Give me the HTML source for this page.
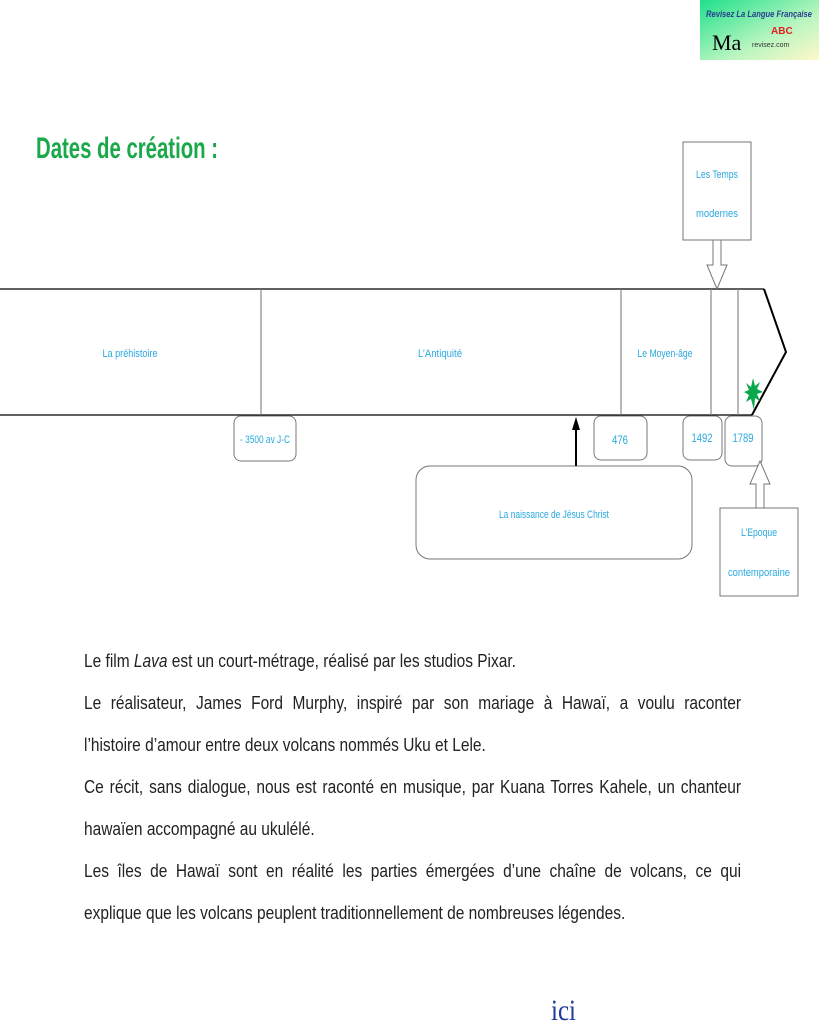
<!DOCTYPE html>
<html><head><meta charset="utf-8"><style>
html,body{margin:0;padding:0;background:#fff;}
body{position:relative;width:819px;height:1024px;overflow:hidden;}
svg{display:block;position:absolute;left:0;top:0;}
text{font-family:"Liberation Sans",sans-serif;}
#body{position:absolute;left:84px;top:640px;width:764px;transform:scaleX(0.86);transform-origin:0 0;font-family:"Liberation Sans",sans-serif;font-size:18px;color:#222;line-height:42px;}
#body div{white-space:nowrap;}
#body .j{text-align:justify;text-align-last:justify;white-space:normal;}
</style></head><body>
<svg width="819" height="1024" viewBox="0 0 819 1024" xmlns="http://www.w3.org/2000/svg">
<defs>
<linearGradient id="lg" x1="0" y1="0" x2="1" y2="1">
<stop offset="0" stop-color="#1fe08a"/><stop offset="0.6" stop-color="#b8f5c0"/><stop offset="1" stop-color="#fff8c8"/>
</linearGradient>
</defs>
<rect x="700" y="0" width="119" height="60" fill="url(#lg)"/>
<text x="706" y="17" font-size="9" fill="#2a3c90" font-style="italic" font-weight="bold" textLength="106" lengthAdjust="spacingAndGlyphs">Revisez La Langue Française</text>
<text x="712" y="50" font-size="22" fill="#000" style="font-family:'Liberation Serif',serif">Ma</text>
<text x="771" y="34" font-size="10" font-weight="bold" fill="#e02020">ABC</text>
<text x="752" y="47" font-size="7" fill="#333">revisez.com</text>

<text x="36" y="158" font-size="30" font-weight="bold" fill="#1aa84a" textLength="182" lengthAdjust="spacingAndGlyphs">Dates de création :</text>

<g stroke="#000" stroke-width="1.3" fill="none">
<line x1="0" y1="289" x2="764" y2="289"/>
<line x1="0" y1="415" x2="752" y2="415"/>
<polyline points="764,289 786,352 752,415" stroke-width="2"/>
</g>
<g stroke="#888" stroke-width="1.2">
<line x1="261" y1="289" x2="261" y2="415"/>
<line x1="621" y1="289" x2="621" y2="415"/>
<line x1="711" y1="289" x2="711" y2="415"/>
<line x1="738" y1="289" x2="738" y2="415"/>
</g>
<g fill="#29a9e0" font-size="11">
<text x="130" y="357" text-anchor="middle" textLength="55" lengthAdjust="spacingAndGlyphs">La préhistoire</text>
<text x="440" y="357" text-anchor="middle" textLength="44" lengthAdjust="spacingAndGlyphs">L’Antiquité</text>
<text x="665" y="357" text-anchor="middle" textLength="55" lengthAdjust="spacingAndGlyphs">Le Moyen-âge</text>
</g>
<polygon fill="#0aa84a" points="753,378 755,386 760,382 757,389 763,392 757,394 760,401 755,398 754,410 751,399 746,402 749,395 744,392 749,390 746,383 751,387" />

<g fill="#fff" stroke="#777" stroke-width="1">
<rect x="234" y="416" width="62" height="45" rx="7"/>
<rect x="594" y="416" width="53" height="44" rx="7"/>
<rect x="683" y="416" width="39" height="44" rx="7"/>
<rect x="725" y="416" width="37" height="50" rx="7"/>
<rect x="416" y="466" width="276" height="93" rx="14"/>
<rect x="683" y="142" width="68" height="98"/>
<rect x="720" y="508" width="78" height="88"/>
</g>
<g fill="#29a9e0" font-size="12">
<text x="265" y="443" text-anchor="middle" font-size="11" textLength="50" lengthAdjust="spacingAndGlyphs">- 3500 av J-C</text>
<text x="620" y="444" text-anchor="middle" textLength="16" lengthAdjust="spacingAndGlyphs">476</text>
<text x="702" y="442" text-anchor="middle" textLength="21" lengthAdjust="spacingAndGlyphs">1492</text>
<text x="743" y="442" text-anchor="middle" textLength="21" lengthAdjust="spacingAndGlyphs">1789</text>
<text x="554" y="518" text-anchor="middle" font-size="11" textLength="110" lengthAdjust="spacingAndGlyphs">La naissance de Jésus Christ</text>
<text x="717" y="178" text-anchor="middle" font-size="11" textLength="42" lengthAdjust="spacingAndGlyphs">Les Temps</text>
<text x="717" y="217" text-anchor="middle" font-size="11" textLength="42" lengthAdjust="spacingAndGlyphs">modernes</text>
<text x="759" y="536" text-anchor="middle" font-size="11" textLength="36" lengthAdjust="spacingAndGlyphs">L’Epoque</text>
<text x="759" y="576" text-anchor="middle" font-size="11" textLength="62" lengthAdjust="spacingAndGlyphs">contemporaine</text>
</g>
<line x1="576" y1="466" x2="576" y2="428" stroke="#000" stroke-width="2"/>
<polygon points="576,417 572,430 580,430" fill="#000"/>
<g fill="#fff" stroke="#777" stroke-width="1">
<polygon points="713,240 721,240 721,265 727,265 717,289 707,265 713,265"/>
<polygon points="756,508 764,508 764,484 770,484 760,461 750,484 756,484"/>
</g>
<text x="551" y="1020" font-size="30" fill="#1e3a9a" style="font-family:'Liberation Serif',serif" textLength="25" lengthAdjust="spacingAndGlyphs">ici</text>
</svg>
<div id="body">
<div>Le film <i>Lava</i> est un court-métrage, réalisé par les studios Pixar.</div>
<div class="j">Le réalisateur, James Ford Murphy, inspiré par son mariage à Hawaï, a voulu raconter</div>
<div>l’histoire d’amour entre deux volcans nommés Uku et Lele.</div>
<div class="j">Ce récit, sans dialogue, nous est raconté en musique, par Kuana Torres Kahele, un chanteur</div>
<div>hawaïen accompagné au ukulélé.</div>
<div class="j">Les îles de Hawaï sont en réalité les parties émergées d’une chaîne de volcans, ce qui</div>
<div>explique que les volcans peuplent traditionnellement de nombreuses légendes.</div>
</div>
</body></html>
